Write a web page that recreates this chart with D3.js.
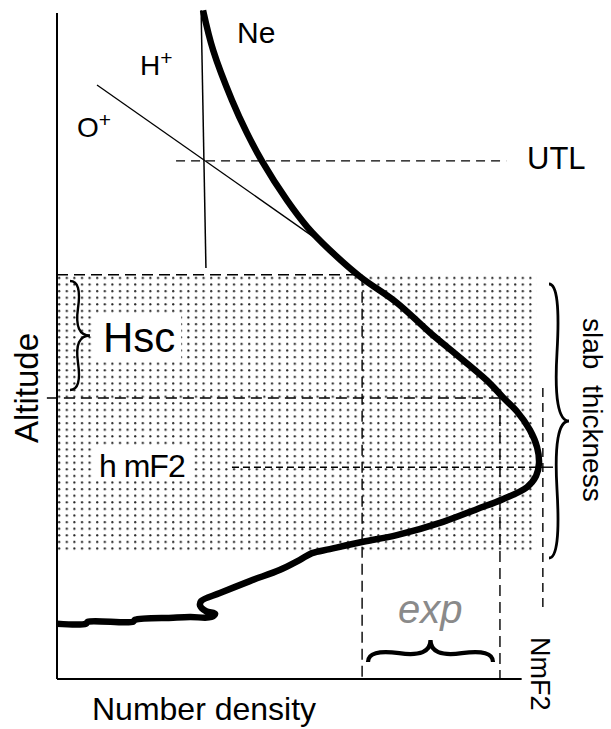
<!DOCTYPE html>
<html><head><meta charset="utf-8">
<script src="https://cdn.jsdelivr.net/npm/d3@7"></script>
<style>body{margin:0;background:#fff}svg{display:block}text{font-family:"Liberation Sans",Arial,sans-serif;fill:#000}</style>
</head><body>
<script>
// Ne profile: density (in units of NmF2) vs altitude (arbitrary units)
const neDensity = [0.303,0.324,0.363,0.394,0.425,0.477,0.519,0.566,0.629,0.705,0.774,0.842,0.898,0.925,0.954,0.981,0.996,1.0,0.994,0.975,0.925,0.871,0.801,0.705,0.635,0.566,0.529,0.504,0.463,0.400,0.338,0.299,0.297,0.309,0.328,0.320,0.276,0.241,0.162,0.158,0.064,0.060,0];
const neAltitude = [1004,944,869,820,778,719,679,644,604,565,520,479,444,423,402,374,348,324,305,288,270,255,236,216,206,195,189,179,164,147,129,117,110,102,98,93,93,92,89,86,86,83,83];
// O+ and H+ asymptotes
const oPlusDensity = [0.083,0.577], oPlusAltitude = [892,641];
const hPlusDensity = [0.299,0.309], hPlusAltitude = [1004,617];
// reference levels
const levelNames = ["UTL","top","Hsc","hmF2","bottom"];
const levelAltitude = [778,607,422,318,192];
const densityMarks = ["d1","d2","NmF2"];
const densityValues = [0.633,0.919,1.008];

const W=611,H=729;
const x=d3.scaleLinear().domain([0,1]).range([57,539]);
const y=d3.scaleLinear().domain([0,1000]).range([679,13]);
const L={}; levelNames.forEach((n,i)=>L[n]=levelAltitude[i]);
const D={}; densityMarks.forEach((n,i)=>D[n]=densityValues[i]);

const svg=d3.select("body").append("svg").attr("width",W).attr("height",H);
const defs=svg.append("defs");
const pat=defs.append("pattern").attr("id","dots").attr("patternUnits","userSpaceOnUse").attr("width",7.6).attr("height",6.6).attr("x",x(0)+1).attr("y",y(L.top)+2);
pat.append("circle").attr("cx",1.2).attr("cy",1.2).attr("r",1.1).attr("fill","#222");

// stipple slab
svg.append("rect").attr("x",x(0)).attr("y",y(L.top)).attr("width",x(0.994)-x(0)).attr("height",y(L.bottom)-y(L.top)).attr("fill","url(#dots)");

// white boxes behind labels
svg.append("rect").attr("x",95).attr("y",316).attr("width",86).attr("height",43).attr("fill","#fff");
svg.append("rect").attr("x",96).attr("y",447).attr("width",98).attr("height",34).attr("fill","#fff");

// axes
svg.append("line").attr("x1",x(0)).attr("x2",x(0)).attr("y1",y(1000)).attr("y2",y(0)).attr("stroke","#000").attr("stroke-width",2);
svg.append("line").attr("x1",x(0)).attr("x2",x(0.964)).attr("y1",y(0)).attr("y2",y(0)).attr("stroke","#000").attr("stroke-width",2);

const dash=(x1,y1,x2,y2,da,w)=>svg.append("line").attr("x1",x1).attr("y1",y1).attr("x2",x2).attr("y2",y2).attr("stroke","#000").attr("stroke-width",w||1.4).attr("stroke-dasharray",da);
dash(x(0.247),y(L.UTL),x(0.932),y(L.UTL),"9,6");
dash(x(0),y(L.top),x(0.633),y(L.top),"11,6");
dash(x(-0.021),y(L.Hsc),x(D.d2),y(L.Hsc),"11,6");
dash(x(0.363),y(L.hmF2),x(1.0),y(L.hmF2),"7,4");
svg.append("line").attr("x1",x(1.0)).attr("x2",x(1.029)).attr("y1",y(L.hmF2)).attr("y2",y(L.hmF2)).attr("stroke","#000").attr("stroke-width",1.4);
dash(x(D.d1),y(L.top),x(D.d1),y(0),"11,6");
dash(x(D.d2),y(L.Hsc),x(D.d2),y(0),"11,6");
dash(x(D.NmF2),y(L.Hsc)-10,x(D.NmF2),y(100),"9,6");

// O+ and H+
svg.append("line").attr("x1",x(oPlusDensity[0])).attr("y1",y(oPlusAltitude[0])).attr("x2",x(oPlusDensity[1])).attr("y2",y(oPlusAltitude[1])).attr("stroke","#000").attr("stroke-width",1.3);
svg.append("line").attr("x1",x(hPlusDensity[0])).attr("y1",y(hPlusAltitude[0])).attr("x2",x(hPlusDensity[1])).attr("y2",y(hPlusAltitude[1])).attr("stroke","#000").attr("stroke-width",1.5);

// Ne curve
const pts=neDensity.map((d,i)=>[x(d),y(neAltitude[i])]);
svg.append("path").attr("d",d3.line().curve(d3.curveCatmullRom.alpha(0.5))(pts)).attr("fill","none").attr("stroke","#000").attr("stroke-width",6.5).attr("stroke-linejoin","round");

// braces
function brace(x1,y1,x2,y2,w,q){
  let dx=x1-x2,dy=y1-y2,len=Math.sqrt(dx*dx+dy*dy);dx/=len;dy/=len;
  const qx1=x1+q*w*dy,qy1=y1-q*w*dx;
  const qx2=(x1-.25*len*dx)+(1-q)*w*dy,qy2=(y1-.25*len*dy)-(1-q)*w*dx;
  const tx1=(x1-.5*len*dx)+w*dy,ty1=(y1-.5*len*dy)-w*dx;
  const qx3=x2+q*w*dy,qy3=y2-q*w*dx;
  const qx4=(x1-.75*len*dx)+(1-q)*w*dy,qy4=(y1-.75*len*dy)-(1-q)*w*dx;
  return `M${x1} ${y1}Q${qx1} ${qy1} ${qx2} ${qy2}T${tx1} ${ty1}M${x2} ${y2}Q${qx3} ${qy3} ${qx4} ${qy4}T${tx1} ${ty1}`;
}
svg.append("path").attr("d",brace(70,390,70,281,20,0.6)).attr("fill","none").attr("stroke","#000").attr("stroke-width",2.4);
svg.append("path").attr("d",brace(549,558,549,284,20,0.6)).attr("fill","none").attr("stroke","#000").attr("stroke-width",2.8);
svg.append("path").attr("d",brace(493,662,368,662,22,0.6)).attr("fill","none").attr("stroke","#000").attr("stroke-width",4.2);

// labels
const t=(s,xx,yy,size,extra)=>{const e=svg.append("text").attr("x",xx).attr("y",yy).attr("font-size",size).text(s);if(extra)extra(e);return e;};
t("Ne",237,43,30);
const hp=t("H",140,75,28); hp.append("tspan").attr("dy",-10).attr("font-size",21).text("+");
const op=t("O",77,137,28); op.append("tspan").attr("dy",-10).attr("font-size",21).text("+");
t("UTL",527,169,31);
t("Hsc",103,352,42);
t("h mF2",99,477,32,e=>e.attr("letter-spacing",-1));
svg.append("text").attr("transform","translate(38,388) rotate(-90)").attr("text-anchor","middle").attr("font-size",33).text("Altitude");
svg.append("text").attr("transform","translate(583,318) rotate(90)").attr("font-size",28).attr("xml:space","preserve").text("slab  thickness");
svg.append("text").attr("transform","translate(531,637) rotate(90)").attr("font-size",27).text("NmF2");
svg.append("text").attr("x",398).attr("y",623).attr("font-size",40).attr("font-style","italic").attr("font-family","'Liberation Serif',serif").style("fill","#8a8a8a").text("exp");
t("Number density",92,720,32);
</script>
</body></html>
